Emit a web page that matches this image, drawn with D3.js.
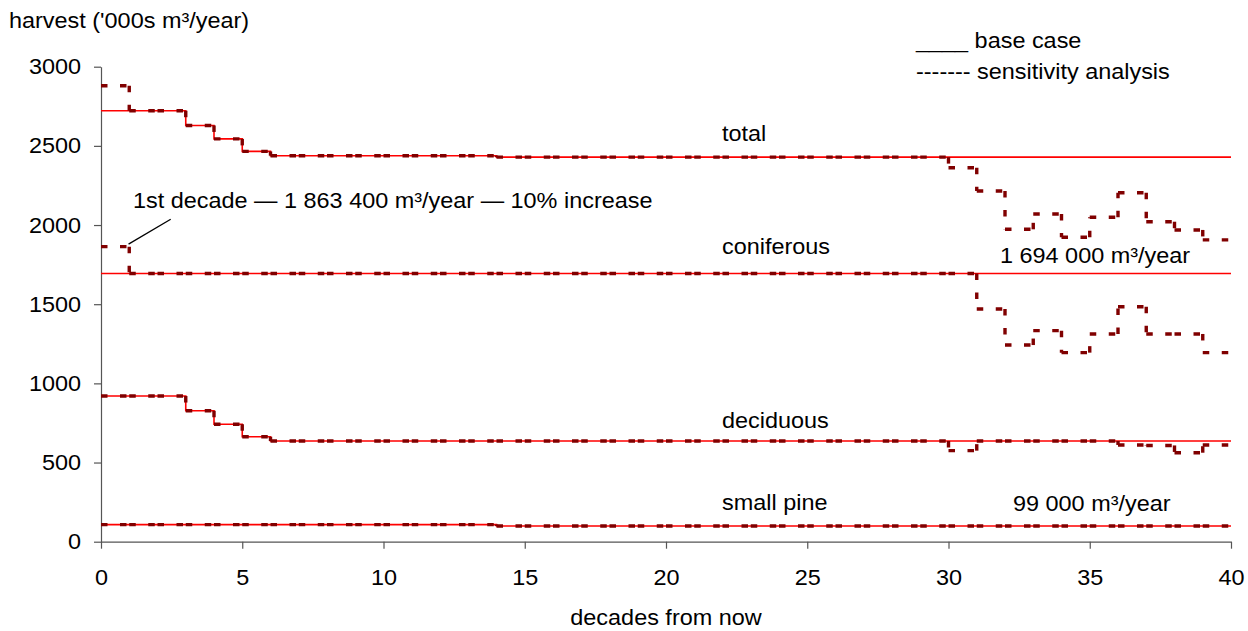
<!DOCTYPE html>
<html>
<head>
<meta charset="utf-8">
<script src="https://cdn.jsdelivr.net/npm/d3@7/dist/d3.min.js"></script>
<style>
  html, body { margin: 0; padding: 0; background: #fff; }
  svg { display: block; }
  text { font-family: "Liberation Sans", Arial, sans-serif; font-size: 22px; fill: #000; }
  .axis path, .axis line { stroke: #555; stroke-width: 1.2; }
</style>
</head>
<body>
<svg id="chart" width="1248" height="631"></svg>
<script>
// Harvest per decade ('000s m³/year), decades 0..39 from now
const decadeTicks = [0, 5, 10, 15, 20, 25, 30, 35, 40];
const harvestTicks = [0, 500, 1000, 1500, 2000, 2500, 3000];

// base case
const baseTotal = [2722, 2722, 2722, 2629, 2544, 2465, 2438, 2438, 2438, 2438,
                   2438, 2438, 2438, 2438, 2429, 2429, 2429, 2429, 2429, 2429,
                   2429, 2429, 2429, 2429, 2429, 2429, 2429, 2429, 2429, 2429,
                   2429, 2429, 2429, 2429, 2429, 2429, 2429, 2429, 2429, 2429];
const baseConiferous = [1694, 1694, 1694, 1694, 1694, 1694, 1694, 1694, 1694, 1694,
                        1694, 1694, 1694, 1694, 1694, 1694, 1694, 1694, 1694, 1694,
                        1694, 1694, 1694, 1694, 1694, 1694, 1694, 1694, 1694, 1694,
                        1694, 1694, 1694, 1694, 1694, 1694, 1694, 1694, 1694, 1694];
const baseDeciduous = [920, 920, 920, 827, 742, 663, 636, 636, 636, 636,
                       636, 636, 636, 636, 636, 636, 636, 636, 636, 636,
                       636, 636, 636, 636, 636, 636, 636, 636, 636, 636,
                       636, 636, 636, 636, 636, 636, 636, 636, 636, 636];
const baseSmallPine = [108, 108, 108, 108, 108, 108, 108, 108, 108, 108,
                       108, 108, 108, 108, 99, 99, 99, 99, 99, 99,
                       99, 99, 99, 99, 99, 99, 99, 99, 99, 99,
                       99, 99, 99, 99, 99, 99, 99, 99, 99, 99];

// sensitivity analysis
const sensTotal = [2880, 2722, 2722, 2629, 2544, 2465, 2438, 2438, 2438, 2438,
                   2438, 2438, 2438, 2438, 2429, 2429, 2429, 2429, 2429, 2429,
                   2429, 2429, 2429, 2429, 2429, 2429, 2429, 2429, 2429, 2429,
                   2362, 2215, 1973, 2070, 1923, 2049, 2204, 2021, 1969, 1906];
const sensConiferous = [1863.4, 1694, 1694, 1694, 1694, 1694, 1694, 1694, 1694, 1694,
                        1694, 1694, 1694, 1694, 1694, 1694, 1694, 1694, 1694, 1694,
                        1694, 1694, 1694, 1694, 1694, 1694, 1694, 1694, 1694, 1694,
                        1694, 1470, 1242, 1333, 1194, 1312, 1484, 1312, 1312, 1194];
const sensDeciduous = [920, 920, 920, 827, 742, 663, 636, 636, 636, 636,
                       636, 636, 636, 636, 636, 636, 636, 636, 636, 636,
                       636, 636, 636, 636, 636, 636, 636, 636, 636, 636,
                       575, 636, 636, 636, 636, 636, 611, 608, 562, 611];
const sensSmallPine = [108, 108, 108, 108, 108, 108, 108, 108, 108, 108,
                       108, 108, 108, 108, 99, 99, 99, 99, 99, 99,
                       99, 99, 99, 99, 99, 99, 99, 99, 99, 99,
                       99, 99, 99, 99, 99, 99, 99, 99, 99, 99];

const baseSeries = [baseTotal, baseConiferous, baseDeciduous, baseSmallPine];
const sensSeries = [sensTotal, sensConiferous, sensDeciduous, sensSmallPine];

const svg = d3.select("#chart");
const margin = { left: 101, right: 17, top: 66.7, bottom: 89.3 };
const W = 1248, H = 631;
const SX = 1.065; // slightly wide lettering

const x = d3.scaleLinear().domain([0, 40]).range([margin.left, W - margin.right]);
const y = d3.scaleLinear().domain([0, 3000]).range([H - margin.bottom, margin.top]);

function label(px, py, str, anchor) {
  return svg.append("text")
    .attr("transform", `translate(${px},${py}) scale(${SX},1)`)
    .attr("text-anchor", anchor || "start")
    .text(str);
}

// axes
const yAxis = svg.append("g").attr("class", "axis")
  .attr("transform", `translate(${x(0)},0)`)
  .call(d3.axisLeft(y).tickValues(harvestTicks).tickFormat(d3.format("d"))
    .tickSize(7).tickPadding(13).tickSizeOuter(0));
yAxis.selectAll("text").attr("x", 0).attr("transform", `translate(-20,0) scale(${SX},1)`);

const xAxis = svg.append("g").attr("class", "axis")
  .attr("transform", `translate(0,${y(0)})`)
  .call(d3.axisBottom(x).tickValues(decadeTicks).tickFormat(d3.format("d"))
    .tickSize(7).tickPadding(21).tickSizeOuter(0));
xAxis.selectAll("text").attr("transform", `scale(${SX},1)`);

svg.selectAll(".axis text").attr("font-size", null).attr("font-family", null).style("fill", "#000");
svg.selectAll(".axis").attr("font-size", null).attr("font-family", null);

// step line helper: value for decade i holds from i to i+1
const stepLine = d3.line().x(d => x(d[0])).y(d => y(d[1])).curve(d3.curveStepAfter);

// base case: solid red step lines
baseSeries.forEach(vals => {
  const pts = vals.map((v, i) => [i, v]);
  pts.push([vals.length, vals[vals.length - 1]]);
  svg.append("path")
    .attr("d", stepLine(pts))
    .attr("fill", "none")
    .attr("stroke", "#ff0000")
    .attr("stroke-width", 1.6);
});

// sensitivity analysis: dashed dark red, dash pattern restarting on every segment
const seg = d3.line().x(d => x(d[0])).y(d => y(d[1]));
sensSeries.forEach(vals => {
  const g = svg.append("g")
    .attr("fill", "none")
    .attr("stroke", "#800000")
    .attr("stroke-width", 3.4)
    .attr("stroke-dasharray", "6.5,12.5");
  vals.forEach((v, i) => {
    g.append("path").attr("d", seg([[i, v], [i + 1, v]]));
    if (i + 1 < vals.length && vals[i + 1] !== v) {
      g.append("path").attr("d", seg([[i + 1, v], [i + 1, vals[i + 1]]]));
    }
  });
});

// axis titles
label(9, 28, "harvest ('000s m³/year)");
label(x(20), 625, "decades from now", "middle");

// legend
label(916, 48, "____ base case");
label(916, 79, "------- sensitivity analysis");

// series labels
label(722, 141, "total");
label(722, 254, "coniferous");
label(722, 428, "deciduous");
label(722, 510, "small pine");
label(1000, 263, "1 694 000 m³/year");
label(1013, 511, "99 000 m³/year");

// first-decade annotation with leader line
label(133, 208, "1st decade — 1 863 400 m³/year — 10% increase");
svg.append("line")
  .attr("x1", 170.7).attr("y1", 219.3)
  .attr("x2", x(1) - 0.7).attr("y2", y(sensConiferous[0]) - 2.5)
  .attr("stroke", "#000").attr("stroke-width", 1.3);
</script>
</body>
</html>
